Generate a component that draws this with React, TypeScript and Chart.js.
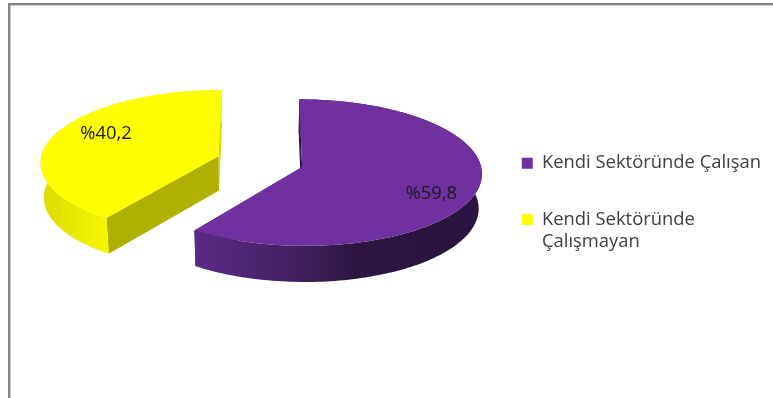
import React, { useEffect, useRef } from "react";
import { Chart, registerables } from "chart.js";

Chart.register(...registerables);

const categories: (string | string[])[] = [
  "Kendi Sektöründe Çalışan",
  ["Kendi Sektöründe", "Çalışmayan"],
];
const shares = [59.8, 40.2];
const sliceColors = ["#7030A0", "#FFFF00"];
const FONT = '"Open Sans", sans-serif';

// View settings of the tilted pie
const view = { cx: 260, cy: 161.5, rx: 178, ry: 72, persp: 0.077, vanishX: 262, shrink: 0.985, depth: 34.5, depthFront: 1.5 };
const looks = [
  { wall: [[0, "#5A2A86"], [0.35, "#43205F"], [0.55, "#2D1542"], [1, "#2A1340"]], wallFrom: 195, wallTo: 483, cutStart: "#2A1340", cutEnd: "#3A1A55", labelAt: 0.74, labelLift: 10 },
  { wall: [[0, "#DCDC00"], [1, "#F6F600"]], wallFrom: 41, wallTo: 107, cutStart: "#B0B000", cutEnd: "#DADA00", labelAt: 0.68, labelLift: -8 },
] as const;

type P = { x: number; y: number };

function project(U: number, V: number, down = false): P {
  const d = 1 - view.persp * V;
  let x = view.vanishX + (view.cx + view.rx * U - view.vanishX) / d;
  let y = view.cy + (view.ry * V) / d;
  if (down) {
    x = view.vanishX + (x - view.vanishX) * view.shrink;
    y += view.depth + view.depthFront * V;
  }
  return { x, y };
}

const tiltedPie = {
  id: "tiltedPie",
  beforeDraw(chart: any) {
    const { ctx } = chart;
    ctx.save();
    ctx.fillStyle = "#FFFFFF";
    ctx.fillRect(0, 0, chart.width, chart.height);
    ctx.fillStyle = "#868686";
    ctx.fillRect(8, 3, chart.width - 8, 2.4);
    ctx.fillRect(8, 3, 2.4, chart.height - 3);
    ctx.restore();
  },
  beforeDatasetsDraw(chart: any) {
    const { ctx } = chart;
    const meta = chart.getDatasetMeta(0);
    meta.data.forEach((arc: any, i: number) => {
      const { startAngle, endAngle, outerRadius } = arc.getProps(["startAngle", "endAngle", "outerRadius"], true);
      const mid = (startAngle + endAngle) / 2;
      const off = (arc.options.offset || 0) / outerRadius;
      const ou = off * Math.cos(mid);
      const ov = off * Math.sin(mid);
      const look = looks[i];
      const rim: [number, number][] = [];
      const n = 160;
      for (let k = 0; k <= n; k++) {
        const a = startAngle + ((endAngle - startAngle) * k) / n;
        rim.push([ou + Math.cos(a), ov + Math.sin(a)]);
      }
      const path = (pts: P[], fill: any) => {
        ctx.beginPath();
        pts.forEach((p, j) => (j ? ctx.lineTo(p.x, p.y) : ctx.moveTo(p.x, p.y)));
        ctx.closePath();
        ctx.fillStyle = fill;
        ctx.fill();
      };
      const first = rim[0];
      const last = rim[n];
      path([project(ou, ov), project(last[0], last[1]), project(last[0], last[1], true), project(ou, ov, true)], look.cutEnd);
      path([project(ou, ov), project(first[0], first[1]), project(first[0], first[1], true), project(ou, ov, true)], look.cutStart);
      const grad = ctx.createLinearGradient(look.wallFrom, 0, look.wallTo, 0);
      look.wall.forEach((s: any) => grad.addColorStop(s[0], s[1]));
      const wall = [
        ...rim.map((r) => project(r[0], r[1])),
        ...rim.slice().reverse().map((r) => project(r[0], r[1], true)),
      ];
      path(wall, grad);
      path([project(ou, ov), ...rim.map((r) => project(r[0], r[1]))], arc.options.backgroundColor);
      const lp = project(ou + look.labelAt * Math.cos(mid), ov + look.labelAt * Math.sin(mid));
      ctx.save();
      ctx.font = `18.4px ${FONT}`;
      ctx.fillStyle = "#1A1A1A";
      ctx.textAlign = "center";
      ctx.textBaseline = "middle";
      ctx.fillText("%" + String(shares[i]).replace(".", ","), lp.x, lp.y + look.labelLift);
      ctx.restore();
    });
    return false;
  },
};

export default function App() {
  const ref = useRef<HTMLCanvasElement>(null);
  useEffect(() => {
    document.body.style.margin = "0";
    const chart = new Chart(ref.current!, {
      type: "pie",
      data: {
        labels: categories as any,
        datasets: [{ data: shares, backgroundColor: sliceColors, borderWidth: 0, offset: 31 }],
      },
      options: {
        responsive: false,
        animation: false,
        layout: { padding: { top: 116, right: 2 } },
        plugins: {
          tooltip: { enabled: false },
          legend: {
            display: true,
            position: "right",
            align: "start",
            labels: {
              boxWidth: 11,
              boxHeight: 11,
              padding: 38,
              color: "#404040",
              font: { family: FONT, size: 18.4 },
            },
          },
        },
      },
      plugins: [tiltedPie],
    } as any);
    return () => chart.destroy();
  }, []);
  return <canvas ref={ref} width={773} height={398} style={{ display: "block", width: 773, height: 398 }} />;
}
